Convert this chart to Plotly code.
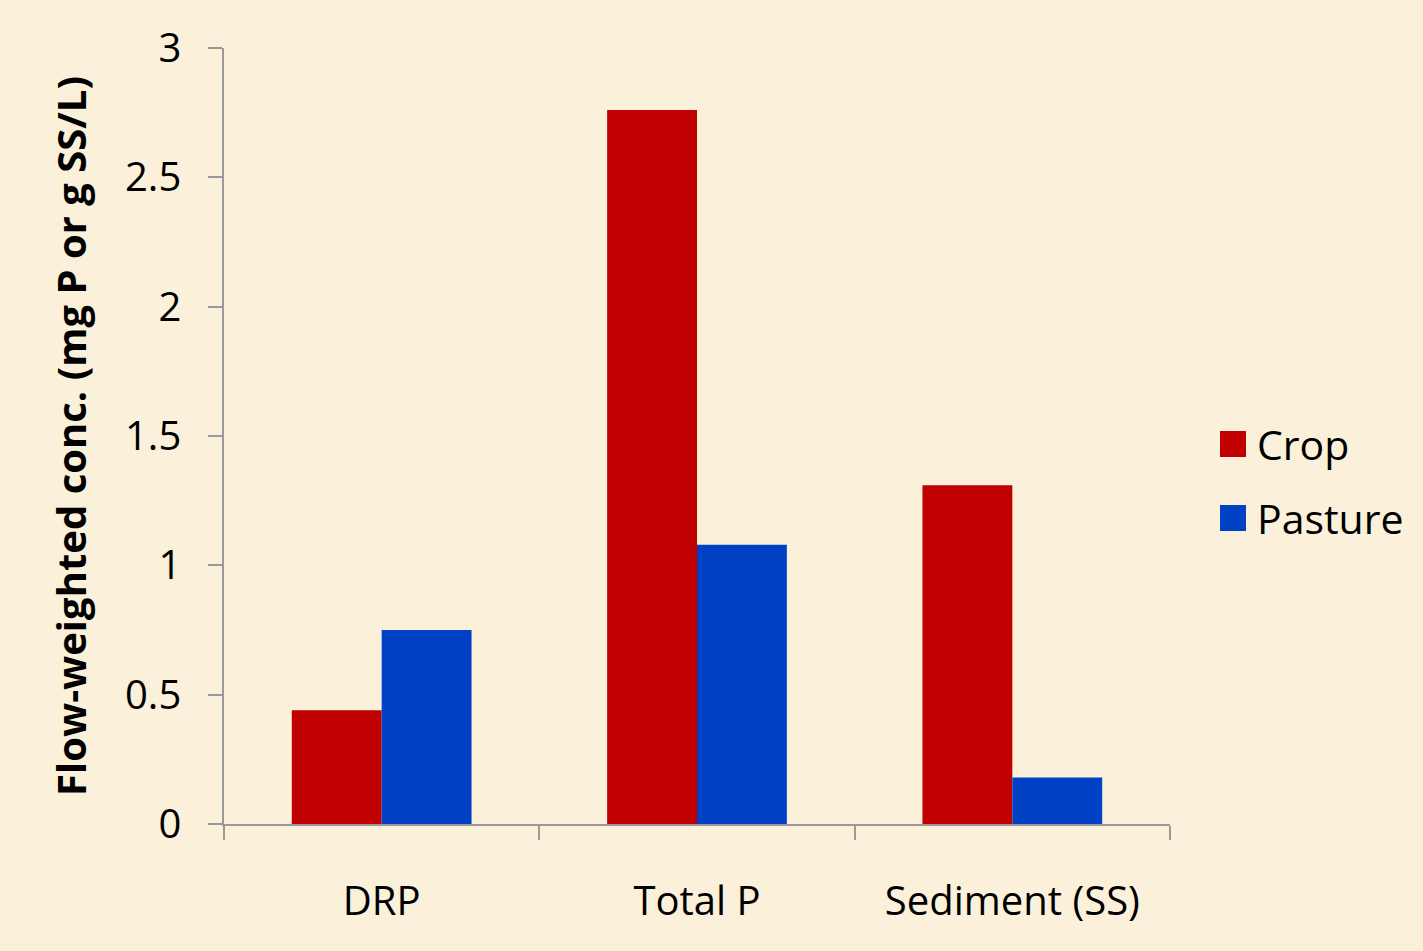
import plotly.graph_objects as go

# Flow-weighted concentrations by land use
categories = ["DRP", "Total P", "Sediment (SS)"]
crop = [0.44, 2.76, 1.31]
pasture = [0.75, 1.08, 0.18]
series_names = ["Crop", "Pasture"]
y_ticks = [0, 0.5, 1, 1.5, 2, 2.5, 3]
y_title = "Flow-weighted conc. (mg P or g SS/L)"

CROP_COLOR = "#C00000"
PASTURE_COLOR = "#0041C6"
BG = "#FBF0DA"
AXIS_GRAY = "#9A9A9A"
FONT = "Open Sans"

W, H = 1423, 951
M = dict(l=224, r=253, t=48, b=127)
PW = W - M["l"] - M["r"]
PH = H - M["t"] - M["b"]

fig = go.Figure()
fig.add_trace(go.Bar(x=categories, y=crop, name=series_names[0],
                     marker=dict(color=CROP_COLOR, line=dict(width=0)),
                     showlegend=False))
fig.add_trace(go.Bar(x=categories, y=pasture, name=series_names[1],
                     marker=dict(color=PASTURE_COLOR, line=dict(width=0)),
                     showlegend=False))


def px_x(px):
    return (px - M["l"]) / PW


def px_y(py):
    return (H - M["b"] - py) / PH


# Key drawn as colour swatches with labels to the right of the plot
shapes = []
annotations = []
for name, color, cy in [(series_names[0], CROP_COLOR, 444),
                        (series_names[1], PASTURE_COLOR, 518)]:
    shapes.append(dict(type="rect", xref="paper", yref="paper",
                       x0=px_x(1220), x1=px_x(1246),
                       y0=px_y(cy - 13), y1=px_y(cy + 13),
                       fillcolor=color, line=dict(width=0)))
    annotations.append(dict(text=name, xref="paper", yref="paper",
                            x=px_x(1255), y=px_y(cy), xanchor="left",
                            yanchor="middle", showarrow=False,
                            font=dict(family=FONT, size=41, color="#000000")))

fig.update_layout(
    width=W, height=H,
    margin=M,
    paper_bgcolor=BG,
    plot_bgcolor=BG,
    barmode="group",
    bargap=0.43,
    bargroupgap=0,
    font=dict(family=FONT, size=40, color="#000000"),
    shapes=shapes,
    annotations=annotations,
    xaxis=dict(
        showline=True, linecolor=AXIS_GRAY, linewidth=1.5,
        ticks="outside", tickson="boundaries", ticklen=14,
        tickcolor=AXIS_GRAY, tickwidth=1.5,
        showgrid=False, zeroline=False,
        ticklabelstandoff=41,
        tickfont=dict(family=FONT, size=40),
    ),
    yaxis=dict(
        range=[0, 3],
        tickvals=y_ticks,
        showline=True, linecolor=AXIS_GRAY, linewidth=1.5,
        ticks="outside", ticklen=14, tickcolor=AXIS_GRAY, tickwidth=1.5,
        showgrid=False, zeroline=False,
        ticklabelstandoff=19,
        tickfont=dict(family=FONT, size=40),
        title=dict(text="<b>" + y_title + "</b>", standoff=26,
                   font=dict(family=FONT, size=40)),
    ),
)

fig.write_html("out.html")
